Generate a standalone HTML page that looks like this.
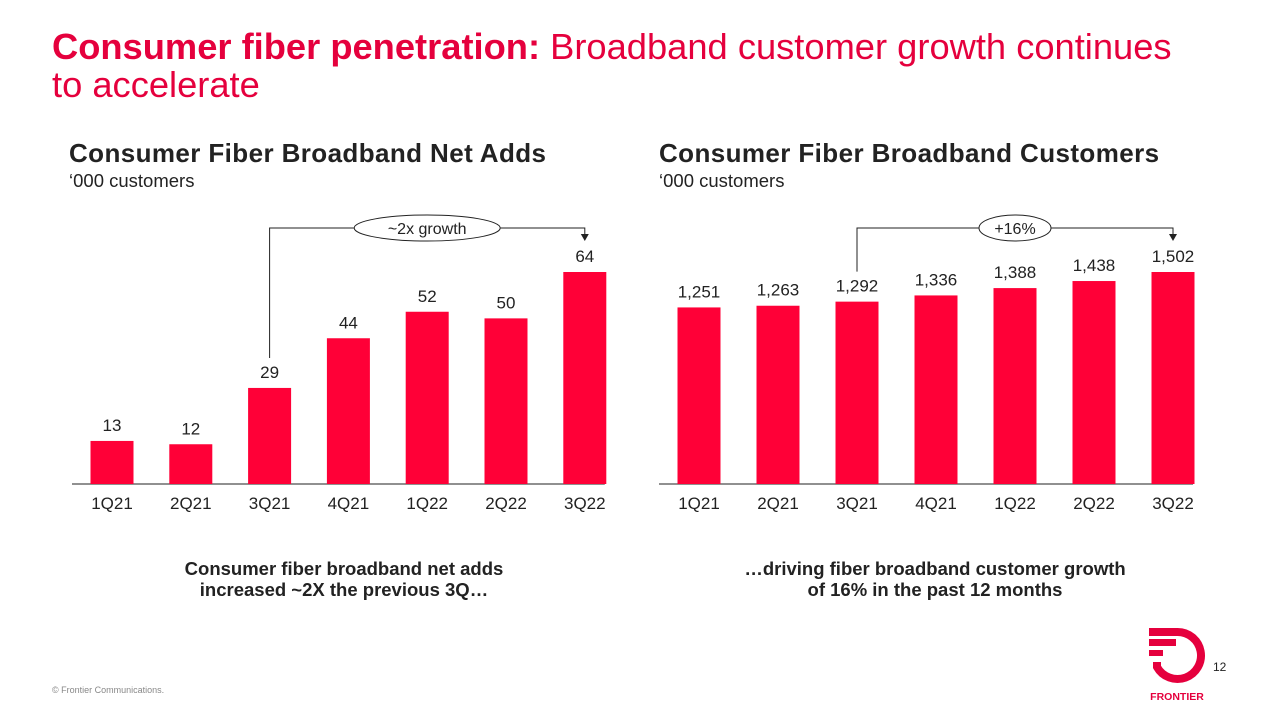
<!DOCTYPE html>
<html><head><meta charset="utf-8"><style>
body{margin:0;width:1280px;height:720px;background:#fff;font-family:"Liberation Sans",sans-serif;position:relative;overflow:hidden}
.t{position:absolute;white-space:nowrap}
</style></head><body>
<div class="t" style="left:52px;top:28px;font-size:36.3px;line-height:38px;color:#e5003d"><b>Consumer fiber penetration:</b> Broadband customer growth continues<br>to accelerate</div>
<div class="t" style="left:69px;top:138px;font-size:26px;font-weight:bold;color:#222;letter-spacing:0.4px">Consumer Fiber Broadband Net Adds</div>
<div class="t" style="left:69px;top:170px;font-size:18.5px;color:#222">‘000 customers</div>
<div class="t" style="left:659px;top:138px;font-size:26px;font-weight:bold;color:#222;letter-spacing:0.4px">Consumer Fiber Broadband Customers</div>
<div class="t" style="left:659px;top:170px;font-size:18.5px;color:#222">‘000 customers</div>
<div class="t" style="left:344px;top:558px;transform:translateX(-50%);font-size:18.5px;font-weight:bold;text-align:center;line-height:21px;color:#222">Consumer fiber broadband net adds<br>increased ~2X the previous 3Q…</div>
<div class="t" style="left:935px;top:558px;transform:translateX(-50%);font-size:18.5px;font-weight:bold;text-align:center;line-height:21px;color:#222">…driving fiber broadband customer growth<br>of 16% in the past 12 months</div>
<div class="t" style="left:52px;top:685px;font-size:9px;color:#888">© Frontier Communications.</div>
<div class="t" style="left:1213px;top:660px;font-size:12px;color:#222">12</div>
<svg style="position:absolute;left:1140px;top:620px" width="80" height="85" viewBox="0 0 80 85">
<path d="M9 12 H37 A23.5 23.5 0 1 1 17 47 V42" fill="none" stroke="#e5003d" stroke-width="8"/>
<rect x="9" y="19" width="27" height="7" fill="#e5003d"/><rect x="9" y="30" width="14" height="6" fill="#e5003d"/>
<text x="37" y="80" text-anchor="middle" font-size="10.5" font-weight="bold" fill="#e5003d" font-family="Liberation Sans">FRONTIER</text></svg>
<svg id="chart" style="position:absolute;left:0;top:0" width="1280" height="720"></svg>
<script>
const categories=["1Q21","2Q21","3Q21","4Q21","1Q22","2Q22","3Q22"];
const netAdds=[13,12,29,44,52,50,64];
const customers=[1251,1263,1292,1336,1388,1438,1502];
const netAddLabels=["13","12","29","44","52","50","64"];
const customerLabels=["1,251","1,263","1,292","1,336","1,388","1,438","1,502"];
const svg=document.getElementById('chart');const NS='http://www.w3.org/2000/svg';
function mk(t,a,txt){const e=document.createElementNS(NS,t);for(const k in a)e.setAttribute(k,a[k]);if(txt!=null)e.textContent=txt;svg.appendChild(e);return e;}
const base=484,maxH=212;
function drawChart(x0,step,vals,labels,maxV,prefix,ann,annW){
  const y=v=>base-v/maxV*maxH, x=i=>x0+i*step;
  const ax=mk('line',{x1:x(0)-40,x2:x(6)+20,y1:base,y2:base,stroke:'#222','stroke-width':1});
  
  vals.forEach((v,i)=>{
    const r=mk('rect',{x:x(i)-21.5,y:y(v),width:43,height:base-y(v),fill:'#ff0037'});
    
    const l=mk('text',{x:x(i),y:y(v)-10,'text-anchor':'middle','font-size':17,fill:'#222'},labels[i]);
    
    const c=mk('text',{x:x(i),y:509,'text-anchor':'middle','font-size':17,fill:'#222'},categories[i]);
    
  });
  const xs=x(2),xe=x(6),ty=228;
  const p=mk('path',{d:`M${xs} ${y(vals[2])-30} V${ty} H${xe} V${y(vals[6])-36}`,fill:'none',stroke:'#222','stroke-width':1});
  
  const ar=mk('path',{d:`M${xe-4} ${y(vals[6])-38} L${xe+4} ${y(vals[6])-38} L${xe} ${y(vals[6])-31}Z`,fill:'#222'});
  
  const cx=x(4);
  const el=mk('ellipse',{cx:cx,cy:ty,rx:annW/2,ry:13,fill:'#fff',stroke:'#222','stroke-width':1});
  
  const at=mk('text',{x:cx,y:ty+6,'text-anchor':'middle','font-size':16,fill:'#222'},ann);
  
}
drawChart(112,78.8,netAdds,netAddLabels,64,'net-adds','~2x growth',146);
drawChart(699,79,customers,customerLabels,1502,'customers','+16%',72);
</script>
</body></html>
